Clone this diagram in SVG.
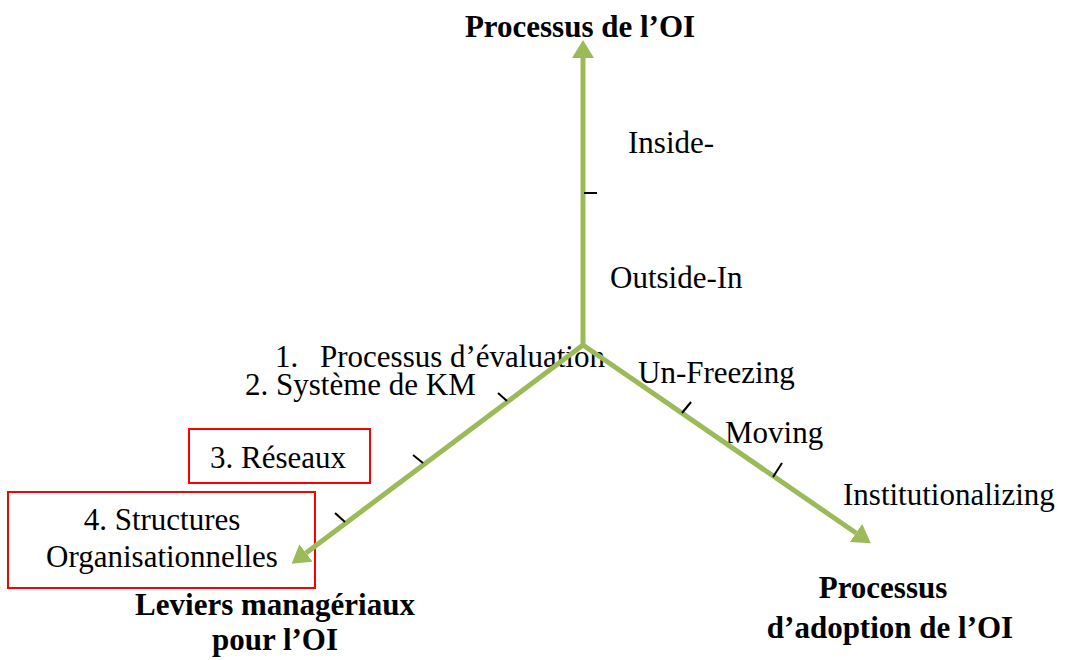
<svg xmlns="http://www.w3.org/2000/svg" width="1065" height="660" viewBox="0 0 1065 660">
<style>
text{font-family:"Liberation Serif","Times New Roman",serif;font-size:31px;fill:#000}
.b{font-weight:bold}
.axis{stroke:#9BBB59;stroke-width:5;fill:none}
.tick{stroke:#000;stroke-width:2}
.box{fill:none;stroke:#FF0000;stroke-width:2}
</style>
<defs>
<marker id="ah" markerUnits="userSpaceOnUse" markerWidth="18" markerHeight="22" viewBox="0 0 18 22" refX="0" refY="11" orient="auto">
<path d="M0,0 L18,11 L0,22 z" fill="#9BBB59"/>
</marker>
</defs>
<rect width="1065" height="660" fill="#fff"/>
<g id="title-top"><text class="b" x="580" y="37" text-anchor="middle">Processus de l’OI</text></g>
<g id="inside"><text x="628" y="153">Inside-</text></g>
<g id="outside"><text x="610" y="288">Outside-In</text></g>
<g id="lever1"><text x="275" y="367">1.</text><text x="320" y="367">Processus d’évaluation</text></g>
<g id="lever2"><text x="245" y="395">2. Système de KM</text></g>
<g id="lever3"><rect class="box" x="189" y="429" width="181" height="54"/><text x="210" y="468">3. Réseaux</text></g>
<g id="lever4"><rect class="box" x="8" y="492" width="307" height="96"/><text x="162" y="530" text-anchor="middle">4. Structures</text><text x="162" y="567" text-anchor="middle">Organisationnelles</text></g>
<g id="title-left"><text class="b" x="275" y="615" text-anchor="middle">Leviers managériaux</text><text class="b" x="275" y="650" text-anchor="middle">pour l’OI</text></g>
<g id="unfreezing"><text x="638" y="383">Un-Freezing</text></g>
<g id="moving"><text x="725" y="443">Moving</text></g>
<g id="institutionalizing"><text x="843" y="505">Institutionalizing</text></g>
<g id="title-right"><text class="b" x="883" y="598" text-anchor="middle">Processus</text><text class="b" x="890" y="638" text-anchor="middle">d’adoption de l’OI</text></g>
<g id="connectors">
<line class="axis" x1="583" y1="347" x2="583" y2="58" marker-end="url(#ah)"/>
<line class="axis" x1="583" y1="345" x2="856" y2="533" marker-end="url(#ah)"/>
<line class="axis" x1="583" y1="345" x2="306" y2="553" marker-end="url(#ah)"/>
<line class="tick" x1="584" y1="193" x2="597" y2="193"/>
<line class="tick" x1="682" y1="413" x2="691" y2="402"/>
<line class="tick" x1="773" y1="477" x2="782" y2="463"/>
<line class="tick" x1="498" y1="393" x2="507" y2="401"/>
<line class="tick" x1="413" y1="455" x2="423" y2="463"/>
<line class="tick" x1="335" y1="513" x2="345" y2="522"/>
</g>
</svg>
